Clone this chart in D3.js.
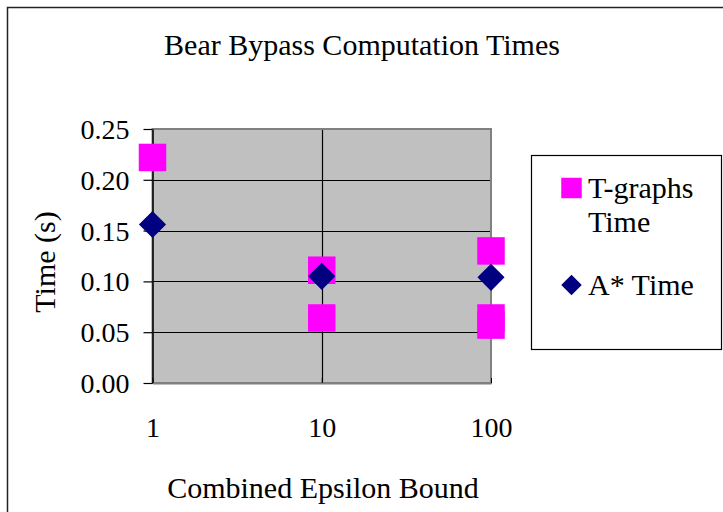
<!DOCTYPE html>
<html>
<head>
<meta charset="utf-8">
<script src="https://cdn.jsdelivr.net/npm/d3@7"></script>
<style>
  html, body { margin: 0; padding: 0; background: #fff; }
  svg { display: block; font-family: "Liberation Serif", "Times New Roman", serif; }
</style>
</head>
<body>
<svg id="chart" width="723" height="512"></svg>
<script>
// ---- data ----
const title = "Bear Bypass Computation Times";
const xLabel = "Combined Epsilon Bound";
const yLabel = "Time (s)";
const xTicks = [1, 10, 100];
const yTicks = [0, 0.05, 0.10, 0.15, 0.20, 0.25];

const tgraphsX = [1, 10, 10, 100, 100, 100];
const tgraphsY = [0.222, 0.111, 0.064, 0.130, 0.064, 0.057];
const astarX = [1, 10, 100];
const astarY = [0.156, 0.105, 0.104];

const seriesNames = ["T-graphs Time", "A* Time"];

// ---- layout ----
const svg = d3.select("#chart");
const plot = { left: 152.5, right: 491, top: 129, bottom: 383 };

const x = d3.scaleLog().domain([1, 100]).range([plot.left, plot.right]);
const y = d3.scaleLinear().domain([0, 0.25]).range([plot.bottom, plot.top]);

// outer chart border (extends beyond the visible area on right/bottom)
svg.append("rect")
  .attr("x", 7.5).attr("y", 7.5).attr("width", 730).attr("height", 520)
  .attr("fill", "#fff").attr("stroke", "#222").attr("stroke-width", 1.5);

// title
svg.append("text")
  .attr("x", 362).attr("y", 55)
  .attr("text-anchor", "middle")
  .attr("font-size", 30)
  .text(title);

// plot area background
svg.append("rect")
  .attr("x", plot.left).attr("y", plot.top)
  .attr("width", plot.right - plot.left).attr("height", plot.bottom - plot.top)
  .attr("fill", "#c0c0c0");

// horizontal gridlines
svg.append("g")
  .selectAll("line")
  .data(yTicks.filter(d => d > 0 && d < 0.25))
  .join("line")
  .attr("x1", plot.left).attr("x2", plot.right)
  .attr("y1", d => Math.round(y(d)) + 0.5).attr("y2", d => Math.round(y(d)) + 0.5)
  .attr("stroke", "#000").attr("stroke-width", 1.2);

// vertical gridline at 10
svg.append("g")
  .selectAll("line")
  .data(xTicks.filter(d => d > 1 && d < 100))
  .join("line")
  .attr("x1", d => Math.round(x(d)) + 0.5).attr("x2", d => Math.round(x(d)) + 0.5)
  .attr("y1", plot.top).attr("y2", plot.bottom)
  .attr("stroke", "#000").attr("stroke-width", 1.2);

// plot area border
svg.append("rect")
  .attr("x", plot.left).attr("y", plot.top)
  .attr("width", plot.right - plot.left).attr("height", plot.bottom - plot.top)
  .attr("fill", "none").attr("stroke", "#808080").attr("stroke-width", 2);

// y axis
const yAxis = d3.axisLeft(y)
  .tickValues(yTicks)
  .tickFormat(d3.format(".2f"))
  .tickSizeInner(9).tickSizeOuter(0).tickPadding(14);
const yg = svg.append("g")
  .attr("transform", `translate(${plot.left},0)`)
  .call(yAxis);
yg.select(".domain").attr("stroke", "#000").attr("stroke-width", 1.5);
yg.selectAll(".tick line").attr("stroke", "#000").attr("stroke-width", 1.2);
yg.selectAll(".tick text")
  .attr("font-family", "Liberation Serif, Times New Roman, serif")
  .attr("font-size", 28).attr("fill", "#000").attr("dy", "0.34em");

// x axis (labels only, ticks inside)
const xAxis = d3.axisBottom(x)
  .tickValues(xTicks)
  .tickFormat(d3.format("d"))
  .tickSizeInner(-5).tickSizeOuter(0).tickPadding(34);
const xg = svg.append("g")
  .attr("transform", `translate(0,${plot.bottom})`)
  .call(xAxis);
xg.select(".domain").attr("stroke", "#808080").attr("stroke-width", 2);
xg.selectAll(".tick line").attr("stroke", "#000");
xg.selectAll(".tick text")
  .attr("font-family", "Liberation Serif, Times New Roman, serif")
  .attr("font-size", 28).attr("fill", "#000");

// axis titles
svg.append("text")
  .attr("x", 323).attr("y", 498)
  .attr("text-anchor", "middle")
  .attr("font-size", 30)
  .text(xLabel);

svg.append("text")
  .attr("transform", "translate(55,262) rotate(-90)")
  .attr("text-anchor", "middle")
  .attr("font-size", 30)
  .text(yLabel);

// markers
const squareSym = d3.symbol().type(d3.symbolSquare);
const tData = tgraphsX.map((d, i) => ({ x: d, y: tgraphsY[i] }));
const aData = astarX.map((d, i) => ({ x: d, y: astarY[i] }));

svg.append("g").selectAll("path")
  .data(tData)
  .join("path")
  .attr("d", squareSym.size(27.5 * 27.5)())
  .attr("transform", d => `translate(${x(d.x)},${y(d.y)})`)
  .attr("fill", "#ff00ff");

svg.append("g").selectAll("path")
  .data(aData)
  .join("path")
  .attr("d", d3.symbol().type(d3.symbolSquare).size(19.2 * 19.2)())
  .attr("transform", d => `translate(${x(d.x)},${y(d.y)}) rotate(45)`)
  .attr("fill", "#000080");

// legend
const lg = svg.append("g");
lg.append("rect")
  .attr("x", 531.5).attr("y", 155.5).attr("width", 190).attr("height", 194)
  .attr("fill", "#fff").attr("stroke", "#000").attr("stroke-width", 1.2);

lg.append("path")
  .attr("d", d3.symbol().type(d3.symbolSquare).size(20.5 * 20.5)())
  .attr("transform", "translate(571.5,188)")
  .attr("fill", "#ff00ff");
lg.append("text").attr("x", 588).attr("y", 198).attr("font-size", 30).text(seriesNames[0].split(" ")[0]);
lg.append("text").attr("x", 588).attr("y", 232).attr("font-size", 30).text(seriesNames[0].split(" ")[1]);

lg.append("path")
  .attr("d", d3.symbol().type(d3.symbolSquare).size(14.5 * 14.5)())
  .attr("transform", "translate(571.5,285) rotate(45)")
  .attr("fill", "#000080");
lg.append("text").attr("x", 588).attr("y", 295).attr("font-size", 30).text(seriesNames[1]);
</script>
</body>
</html>
